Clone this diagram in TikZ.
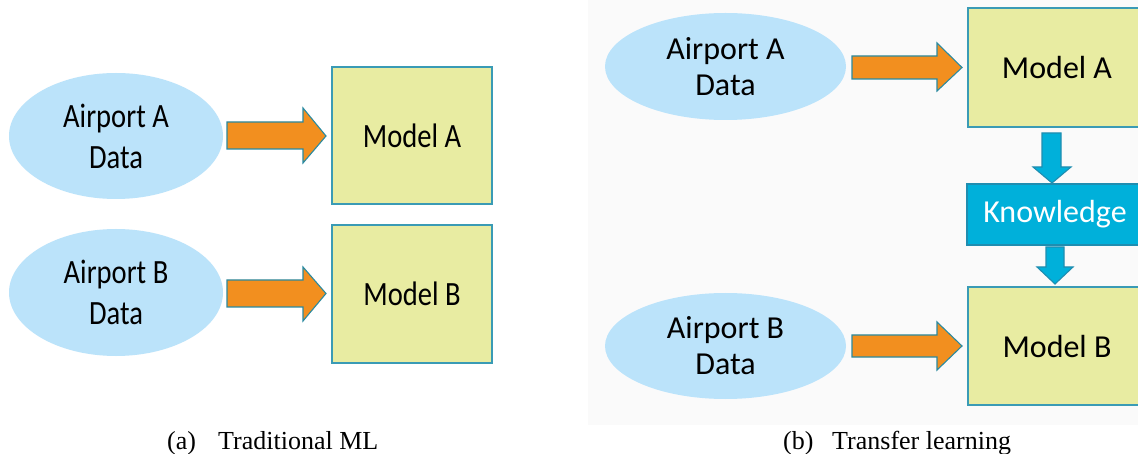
\documentclass[tikz,border=0pt]{standalone}
\usepackage{fontspec}
\usepackage{graphicx}
\setmainfont{Liberation Serif}
\newfontfamily\calfont{Carlito}
\usetikzlibrary{shapes.geometric}
\definecolor{ellblue}{HTML}{BBE3FA}
\definecolor{boxfill}{HTML}{E8ECA2}
\definecolor{boxline}{HTML}{3A9BB5}
\definecolor{arrorange}{HTML}{F28F1F}
\definecolor{arrline}{HTML}{2B8AA0}
\definecolor{knowfill}{HTML}{00B0DA}
\definecolor{knowline}{HTML}{1F8DB0}
\definecolor{panelbg}{HTML}{FAFAFA}
\newcommand{\sqz}[1]{\scalebox{0.84}[1]{#1}}
\tikzset{
  dataell/.style={ellipse, fill=ellblue, draw=none, inner sep=0pt, align=center},
  modelbox/.style={rectangle, fill=boxfill, draw=boxline, line width=1.4pt, inner sep=0pt},
  knowbox/.style={rectangle, fill=knowfill, draw=knowline, line width=1.2pt, inner sep=0pt, text=white},
  orangearrow/.style={fill=arrorange, draw=arrline, line width=1.1pt, line join=miter},
  bluearrow/.style={fill=knowfill, draw=knowline, line width=1.1pt, line join=miter},
  lefttext/.style={font=\calfont\fontsize{34}{41}\selectfont},
  righttext/.style={font=\calfont\fontsize{32}{36}\selectfont},
  captext/.style={font=\fontsize{26}{30}\selectfont, inner sep=0pt}
}
\begin{document}
\begin{tikzpicture}[x=1pt,y=-1pt]
\useasboundingbox (0,0) rectangle (1138,454);
\fill[white] (0,0) rectangle (1138,454);
\fill[panelbg] (588,0) rectangle (1138,425);

% ---------- (a) Traditional ML ----------
\node[dataell, minimum width=214, minimum height=126, lefttext] (dA) at (116,136) {\sqz{Airport A}\\\sqz{Data}};
\node[dataell, minimum width=214, minimum height=127, lefttext] (dB) at (116,292.5) {\sqz{Airport B}\\\sqz{Data}};
\node[modelbox, minimum width=160, minimum height=137, lefttext] (mA) at (412,135.5) {\sqz{Model A}};
\node[modelbox, minimum width=160, minimum height=138, lefttext] (mB) at (412,294) {\sqz{Model B}};

\draw[orangearrow] (227,122) -- (303,122) -- (303,108) -- (326,136) -- (303,163) -- (303,149) -- (227,149) -- cycle;
\draw[orangearrow] (227,280) -- (303,280) -- (303,267) -- (326,293.5) -- (303,321) -- (303,307) -- (227,307) -- cycle;

\node[captext, anchor=base west] (capa1) at (167,449) {(a)};
\node[captext, anchor=base west] (capa2) at (218,449) {Traditional ML};

% ---------- (b) Transfer learning ----------
\node[dataell, minimum width=241, minimum height=107, righttext] (tA) at (725.5,66.5) {Airport A\\Data};
\node[dataell, minimum width=241, minimum height=106, righttext] (tB) at (725.5,346) {Airport B\\Data};
\node[modelbox, minimum width=178, minimum height=119, righttext] (tmA) at (1057,67.5) {};
\node[righttext] (tmAt) at (1057,67.5) {Model A};
\node[modelbox, minimum width=178, minimum height=118, righttext] (tmB) at (1057,346) {};
\node[righttext] (tmBt) at (1057,346) {Model B};
\node[knowbox, minimum width=178, minimum height=61] (kn) at (1056,214.5) {};
\node[righttext, text=white] (knt) at (1055,214.5) {Knowledge};

\draw[orangearrow] (852,56) -- (937,56) -- (937,43) -- (962,67.5) -- (937,91) -- (937,79) -- (852,79) -- cycle;
\draw[orangearrow] (852,335) -- (937,335) -- (937,322) -- (962,346) -- (937,370) -- (937,357) -- (852,357) -- cycle;

\draw[bluearrow] (1042,133) -- (1061,133) -- (1061,167) -- (1071,167) -- (1052,183) -- (1033,167) -- (1042,167) -- cycle;
\draw[bluearrow] (1046,247) -- (1064,247) -- (1064,267) -- (1073,267) -- (1055,284) -- (1037,267) -- (1046,267) -- cycle;

\node[captext, anchor=base west] (capb1) at (783,449) {(b)};
\node[captext, anchor=base west] (capb2) at (832,449) {Transfer learning};
\end{tikzpicture}
\end{document}
